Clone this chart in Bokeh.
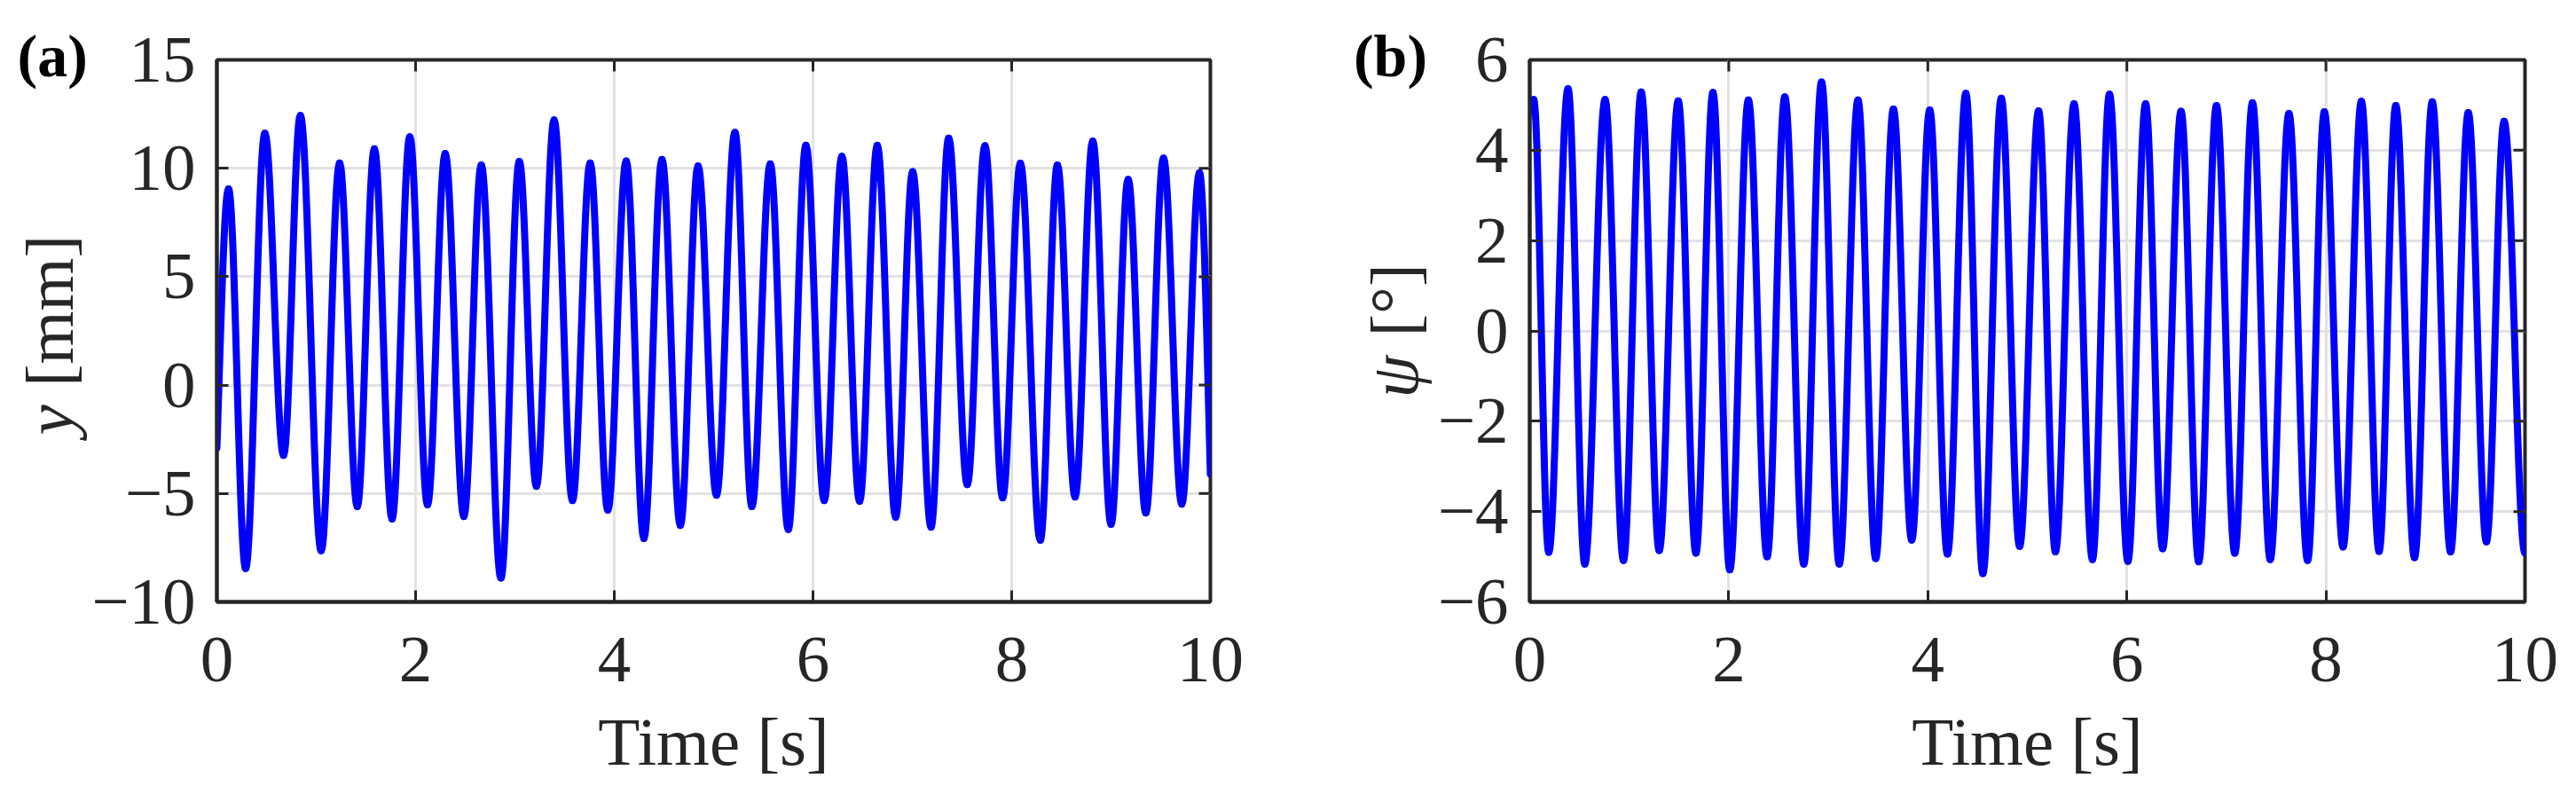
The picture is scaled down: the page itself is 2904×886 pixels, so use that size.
import numpy as np
from bokeh.plotting import figure
from bokeh.layouts import row
from bokeh.models import Range1d, FixedTicker
from bokeh.core.properties import value
from bokeh.embed import file_html
from bokeh.resources import INLINE

# ---------------- data (successive extrema) ----------------
time_ticks = [0, 2, 4, 6, 8, 10]

# panel (a): y [mm]
y_ticks = [-10, -5, 0, 5, 10, 15]
y_t = [0.000, 0.117, 0.289, 0.483, 0.671, 0.840, 1.050, 1.235, 1.413, 1.585,
       1.763, 1.942, 2.120, 2.298, 2.486, 2.661, 2.859, 3.044, 3.216, 3.394,
       3.579, 3.757, 3.935, 4.120, 4.298, 4.480, 4.665, 4.843, 5.029, 5.214,
       5.385, 5.570, 5.751, 5.929, 6.113, 6.291, 6.469, 6.647, 6.832, 7.003,
       7.188, 7.366, 7.553, 7.731, 7.909, 8.087, 8.288, 8.460, 8.638, 8.816,
       9.000, 9.172, 9.350, 9.528, 9.712, 9.890, 10.000]
y_v = [-2.90, 9.05, -8.46, 11.61, -3.24, 12.43, -7.64, 10.24, -5.60, 10.90,
       -6.17, 11.45, -5.52, 10.68, -6.06, 10.15, -8.90, 10.31, -4.67, 12.23,
       -5.33, 10.24, -5.77, 10.34, -7.07, 10.41, -6.47, 10.11, -5.08, 11.66,
       -5.60, 10.20, -6.66, 11.06, -5.33, 10.55, -5.36, 11.06, -6.09, 9.84,
       -6.55, 11.39, -4.59, 11.04, -5.20, 10.23, -7.15, 10.15, -5.16, 11.26,
       -6.42, 9.49, -5.90, 10.47, -5.49, 9.79, -4.10]

# panel (b): psi [deg]
psi_ticks = [-6, -4, -2, 0, 2, 4, 6]
psi_t = [0.000, 0.040, 0.191, 0.385, 0.553, 0.757, 0.942, 1.120, 1.301, 1.492,
         1.670, 1.841, 2.010, 2.197, 2.385, 2.563, 2.754, 2.932, 3.110, 3.298,
         3.476, 3.654, 3.838, 4.019, 4.197, 4.382, 4.553, 4.738, 4.922, 5.113,
         5.282, 5.469, 5.654, 5.825, 6.010, 6.188, 6.359, 6.544, 6.722, 6.900,
         7.084, 7.262, 7.440, 7.628, 7.816, 7.984, 8.172, 8.356, 8.534, 8.702,
         8.890, 9.068, 9.252, 9.430, 9.612, 9.790, 10.000]
psi_v = [4.85, 5.12, -4.90, 5.36, -5.16, 5.12, -5.08, 5.29, -4.86, 5.09,
         -4.92, 5.28, -5.29, 5.11, -5.00, 5.18, -5.16, 5.51, -5.16, 5.11,
         -5.04, 4.91, -4.63, 4.89, -4.94, 5.26, -5.37, 5.15, -4.77, 4.87,
         -4.89, 5.03, -5.06, 5.24, -5.10, 5.03, -4.82, 4.86, -5.11, 4.99,
         -4.92, 5.05, -5.06, 4.81, -5.08, 4.85, -4.78, 5.08, -4.88, 4.99,
         -5.02, 5.07, -4.89, 4.83, -4.67, 4.64, -4.92]

# ---------------- style ----------------
FONT = "Liberation Serif"
TXT = "#262626"
AX = "#262626"
BLUE = "#0000ff"
GRID = "#e2e2e2"
K = 1.0 - 2.0 / np.pi   # bezier handle for a half-cosine between extrema
FRAME_TOP, FRAME_BOTTOM = 67, 678


def bezier_args(t, v, start_free, end_free):
    t = np.asarray(t, float)
    v = np.asarray(v, float)
    x0, x1, y0, y1 = t[:-1], t[1:], v[:-1], v[1:]
    dt = x1 - x0
    cx0, cy0 = x0 + K * dt, y0.copy()
    cx1, cy1 = x1 - K * dt, y1.copy()
    if start_free:
        cx0[0] = x0[0] + dt[0] / 3.0
        cy0[0] = y0[0] + (y1[0] - y0[0]) * 0.45
    if end_free:
        cx1[-1] = x1[-1] - dt[-1] / 3.0
        cy1[-1] = y1[-1] + (y0[-1] - y1[-1]) * 0.45
    return dict(x0=x0, y0=y0, x1=x1, y1=y1, cx0=cx0, cy0=cy0, cx1=cx1, cy1=cy1)


def minus(ticks):
    return {tk: ("\u2212" + str(abs(tk))) for tk in ticks if tk < 0}


def style_axis(ax, ticker, overrides=None):
    ax.ticker = ticker
    ax.axis_line_color = AX
    ax.axis_line_width = 4
    ax.major_tick_line_color = AX
    ax.major_tick_line_width = 3
    ax.major_tick_in = 13
    ax.major_tick_out = 0
    ax.minor_tick_line_color = None
    ax.major_label_text_font = FONT
    ax.major_label_text_font_size = "75px"
    ax.major_label_text_color = TXT
    if overrides:
        ax.major_label_overrides = overrides


def make_panel(t, v, yr, yticks, start_free, end_free, fw, left_border, right_border):
    p = figure(frame_width=fw, frame_height=FRAME_BOTTOM - FRAME_TOP,
               x_range=Range1d(0, 10), y_range=Range1d(*yr),
               output_backend="svg", toolbar_location=None,
               min_border_left=left_border, min_border_right=right_border,
               min_border_top=FRAME_TOP, min_border_bottom=200, align="start")
    p.background_fill_color = "white"
    p.border_fill_color = "white"
    p.outline_line_color = AX
    p.outline_line_width = 4

    xt = FixedTicker(ticks=time_ticks)
    yt = FixedTicker(ticks=yticks)
    style_axis(p.xaxis[0], xt)
    style_axis(p.yaxis[0], yt, overrides=minus(yticks))
    p.xaxis[0].major_label_standoff = 40
    p.yaxis[0].major_label_standoff = 24
    p.xaxis[0].axis_label = "Time [s]"
    p.xaxis[0].axis_label_text_font = FONT
    p.xaxis[0].axis_label_text_font_size = "77px"
    p.xaxis[0].axis_label_text_font_style = "normal"
    p.xaxis[0].axis_label_text_color = TXT
    p.xaxis[0].axis_label_standoff = 22

    p.xgrid.ticker = xt
    p.ygrid.ticker = yt
    for g in (p.xgrid[0], p.ygrid[0]):
        g.grid_line_color = GRID
        g.grid_line_width = 3

    p.bezier(line_color=BLUE, line_width=8, line_cap="round",
             **bezier_args(t, v, start_free, end_free))

    # inward ticks on the top and right edges (half of each dash is clipped by the frame)
    p.scatter(x=time_ticks, y=[yr[1]] * len(time_ticks), marker="dash", size=26,
              angle=np.pi / 2, line_color=AX, line_width=3)
    p.scatter(x=[10] * len(yticks), y=yticks, marker="dash", size=26,
              line_color=AX, line_width=3)
    return p


def gutter(width, tag, tag_x):
    # its frame is aligned with the panels' frames (rows 67..678), so data y == page y
    g = figure(frame_width=width, frame_height=FRAME_BOTTOM - FRAME_TOP,
               x_range=Range1d(0, width), y_range=Range1d(FRAME_BOTTOM, FRAME_TOP),
               output_backend="svg", toolbar_location=None,
               x_axis_location="above", y_axis_location=None, title=None,
               min_border_left=0, min_border_right=0,
               min_border_top=FRAME_TOP, min_border_bottom=200, align="start")
    g.grid.visible = False
    g.outline_line_color = None
    g.background_fill_color = None
    g.border_fill_color = "white"
    ax = g.xaxis[0]
    ax.ticker = FixedTicker(ticks=[tag_x])
    ax.major_label_overrides = {tag_x: tag}
    ax.axis_line_color = None
    ax.major_tick_line_color = None
    ax.minor_tick_line_color = None
    ax.major_tick_in = 0
    ax.major_tick_out = 0
    ax.major_label_standoff = -33
    ax.major_label_text_font = FONT
    ax.major_label_text_font_size = "68px"
    ax.major_label_text_font_style = "bold"
    ax.major_label_text_color = "black"
    return g


def gtext(g, x, y, text, style):
    g.text(x=[x], y=[y], text=[text], angle=np.pi / 2,
           text_font=value(FONT), text_font_size=value("77px"),
           text_font_style=value(style), text_color=TXT,
           text_align="center", text_baseline="middle")


# ---------------- panel (a) ----------------
ga = gutter(99, "(a)", 60)
gtext(ga, 55, 473, "y", "italic")
gtext(ga, 55, 350, "[mm]", "normal")
pa = make_panel(y_t, y_v, (-10, 15), y_ticks, True, True, 1120, 145, 44)

# ---------------- panel (b) ----------------
gb = gutter(209, "(b)", 159)
gtext(gb, 163, 424, "\u03c8", "italic")
gtext(gb, 163, 338, "[\u00b0]", "normal")
pb = make_panel(psi_t, psi_v, (-6, 6), psi_ticks, True, False, 1122, 104, 40)

layout = row(ga, pa, gb, pb)
open("out.html", "w").write(file_html(layout, INLINE))
